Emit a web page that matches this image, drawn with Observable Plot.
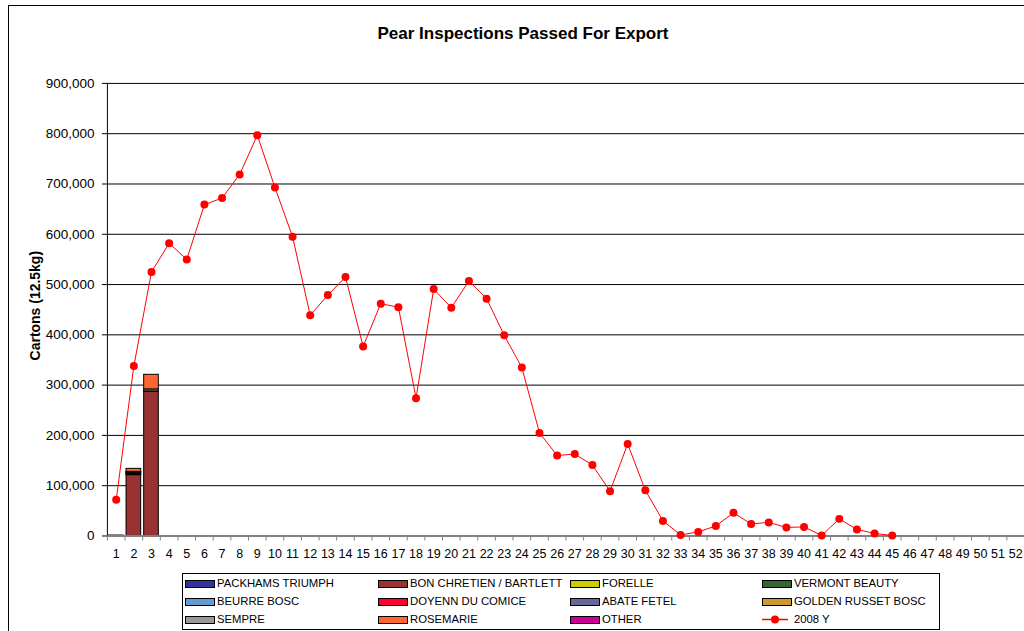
<!DOCTYPE html>
<html><head><meta charset="utf-8">
<script src="https://cdn.jsdelivr.net/npm/d3@7"></script>
<script src="https://cdn.jsdelivr.net/npm/@observablehq/plot@0.6"></script>
<style>
body{margin:0;background:#fff;overflow:hidden;font-family:"Liberation Sans",Arial,sans-serif;}
#wrap{position:relative;width:1024px;height:631px;overflow:hidden;}
#border{position:absolute;left:8px;top:5px;width:1100px;height:700px;border:1px solid #000;}
#title{position:absolute;left:0;width:1046px;top:24px;text-align:center;font-weight:bold;font-size:17px;}
#chart{position:absolute;left:0;top:0;}
#legend{position:absolute;left:182px;top:573px;width:756px;height:55px;border:1px solid #000;background:#fff;}
.item{position:absolute;font-size:11.3px;line-height:13px;white-space:nowrap;}
.sw{position:absolute;width:28px;height:6px;border:1px solid #000;}
</style></head>
<body>
<div id="wrap">
<div id="border"></div>
<div id="chart"></div>
<div id="title">Pear Inspections Passed For Export</div>
<div id="legend"></div>
</div>
<script>
// ---- data ----
const weeks = d3.range(1, 53);
const yTicks = [0, 100000, 200000, 300000, 400000, 500000, 600000, 700000, 800000, 900000];
const varieties = ["PACKHAMS TRIUMPH", "BON CHRETIEN / BARTLETT", "FORELLE", "VERMONT BEAUTY",
  "BEURRE BOSC", "DOYENN DU COMICE", "ABATE FETEL", "GOLDEN RUSSET BOSC", "SEMPRE", "ROSEMARIE", "OTHER"];
const varietyColors = ["#333399", "#993333", "#CCCC00", "#336633", "#6699CC", "#FF0033", "#666699", "#CC9933", "#999999", "#FF6633", "#CC0099"];
const barWeeks = [1, 2, 3];
const packhams     = [0, 0, 0];
const bartlett     = [900, 121000, 287000];
const forelle      = [0, 2000, 500];
const vermont      = [0, 1000, 0];
const beurreBosc   = [0, 1000, 0];
const doyenne      = [0, 1000, 0];
const abateFetel   = [0, 1000, 0];
const goldenRusset = [0, 0, 0];
const sempre       = [0, 500, 4000];
const rosemarie    = [0, 6000, 29000];
const other        = [0, 0, 0];
const seriesValues = [packhams, bartlett, forelle, vermont, beurreBosc, doyenne, abateFetel, goldenRusset, sempre, rosemarie, other];
const lineName = "2008 Y";
const lineWeeks = d3.range(1, 46);
const lineValues = [72000, 338000, 525000, 582000, 550000, 659000, 672000, 719000, 797000, 693000,
  595000, 439000, 479000, 515000, 377000, 462000, 455000, 274000, 491000, 454000,
  507000, 472000, 399000, 335000, 205000, 160000, 163000, 141000, 89000, 183000,
  91000, 30000, 2000, 8000, 20000, 46000, 24000, 27000, 17000, 18000,
  1000, 34000, 13000, 5000, 1000];

// ---- tables ----
const barData = [];
barWeeks.forEach((w, i) => {
  varieties.forEach((v, j) => {
    const val = seriesValues[j][i];
    if (val > 0) barData.push({week: w, variety: v, value: val});
  });
});
const lineData = lineWeeks.map((w, i) => ({week: w, value: lineValues[i]}));

const W = 1025, H = 570, mL = 107, mR = 0, mT = 83, mB = 34;
const step = (W - mL - mR) / weeks.length;

const chart = Plot.plot({
  width: W, height: H,
  marginLeft: mL, marginRight: mR, marginTop: mT, marginBottom: mB,
  style: {fontFamily: "'Liberation Sans', Arial, sans-serif", color: "#000", background: "transparent"},
  x: {type: "band", domain: weeks, paddingInner: 0.17, paddingOuter: 0.085, axis: null},
  y: {domain: [0, 900000], axis: null},
  color: {domain: varieties, range: varietyColors},
  marks: [
    Plot.ruleY(yTicks.filter(d => d > 0), {stroke: "#000", strokeWidth: 1}),
    Plot.barY(barData, Plot.stackY({x: "week", y: "value", fill: "variety", stroke: "#000", strokeWidth: 1})),
    Plot.ruleY([0], {stroke: "#808080", strokeWidth: 2}),
    Plot.ruleX([weeks[0]], {x: d => d, y1: 0, y2: 900000, dx: -step / 2, stroke: "#000"}),
    Plot.axisY({ticks: yTicks, tickSize: 5, tickPadding: 8, fontSize: 13.5, stroke: "#000", label: null, tickFormat: d3.format(",")}),
    Plot.axisX({ticks: weeks, tickSize: 5, tickFormat: () => "", dx: -step / 2, stroke: "#808080", label: null}),
    Plot.axisX({ticks: weeks, tickSize: 0, tickPadding: 13, fontSize: 12.5, label: null}),
    Plot.lineY(lineData, {x: "week", y: "value", stroke: "#FF0000", strokeWidth: 1}),
    Plot.dot(lineData, {x: "week", y: "value", r: 4, fill: "#FF0000", stroke: "none"}),
    Plot.text(["Cartons (12.5kg)"], {frameAnchor: "left", textAnchor: "middle", rotate: -90, dx: -72, dy: -4, fontWeight: "bold", fontSize: 14, fill: "#000"})
  ]
});
document.getElementById("chart").appendChild(chart);

// ---- legend ----
const legend = document.getElementById("legend");
const items = varieties.map((v, i) => ({name: v, color: varietyColors[i]})).concat([{name: lineName, line: true}]);
const colSw = [185, 378, 570, 762], colTx = [217, 410, 602, 794], rowY = [584, 602, 620];
items.forEach((it, k) => {
  const r = Math.floor(k / 4), c = k % 4;
  const lx = 183, ly = 574;
  if (it.line) {
    const d = document.createElement("div");
    d.style.cssText = `position:absolute;left:${colSw[c] - lx}px;top:${rowY[r] - ly - 5}px;width:27px;height:9px;`;
    d.innerHTML = `<svg width="27" height="9" style="display:block"><line x1="0" y1="4.5" x2="26" y2="4.5" stroke="#FF0000" stroke-width="1.5"/><circle cx="13" cy="4.5" r="4" fill="#FF0000"/></svg>`;
    legend.appendChild(d);
  } else {
    const s = document.createElement("div");
    s.className = "sw";
    s.style.left = (colSw[c] - lx) + "px";
    s.style.top = (rowY[r] - ly - 4) + "px";
    s.style.background = it.color;
    legend.appendChild(s);
  }
  const t = document.createElement("div");
  t.className = "item";
  t.style.left = (colTx[c] - lx) + "px";
  t.style.top = (rowY[r] - ly - 7) + "px";
  t.textContent = it.name;
  legend.appendChild(t);
});
</script>
</body></html>
